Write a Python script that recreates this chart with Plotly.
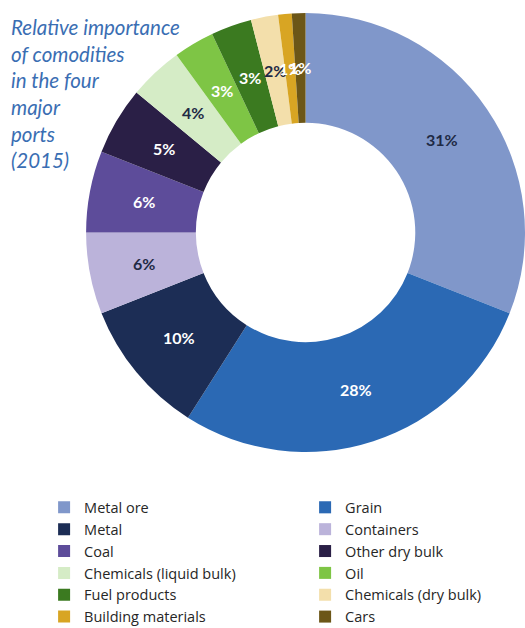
import math
import plotly.graph_objects as go

# Share of cargo by commodity, four major ports, 2015 (percent)
commodities = [
    "Metal ore", "Grain", "Metal", "Containers", "Coal", "Other dry bulk",
    "Chemicals (liquid bulk)", "Oil", "Fuel products", "Chemicals (dry bulk)",
    "Building materials", "Cars",
]
shares = [31, 28, 10, 6, 6, 5, 4, 3, 3, 2, 1, 1]

slice_colors = [
    "#8097CA", "#2B69B4", "#1C2D55", "#BBB3DA", "#5D4C9A", "#2A1F46",
    "#D5ECC6", "#7EC545", "#3B7A20", "#F3DFAB", "#D8A523", "#6C5617",
]
label_colors = [
    "#1F2A45", "white", "white", "#1F2A45", "white", "white",
    "#1F2A45", "white", "white", "#1F2A45", "white", "white",
]

W, H = 525, 628
HOLE = 0.5
DOM_X = [0.164, 1.0]
DOM_Y = [0.2787, 0.9809]

fig = go.Figure(
    go.Pie(
        labels=commodities,
        values=shares,
        sort=False,
        direction="clockwise",
        rotation=0,
        hole=HOLE,
        marker=dict(colors=slice_colors, line=dict(width=0)),
        textinfo="none",
        domain=dict(x=DOM_X, y=DOM_Y),
    )
)

# Percentage labels sit at the middle of the ring, on each slice's mid-angle
dom_w = (DOM_X[1] - DOM_X[0]) * W
dom_h = (DOM_Y[1] - DOM_Y[0]) * H
radius = min(dom_w, dom_h) / 2
cx = (DOM_X[0] + DOM_X[1]) / 2 * W
cy = (1 - (DOM_Y[0] + DOM_Y[1]) / 2) * H
r_mid = radius * (1 + HOLE) / 2
total = sum(shares)
cum = 0.0
for share, col in zip(shares, label_colors):
    theta = 2 * math.pi * (cum + share / 2) / total
    cum += share
    px = cx + r_mid * math.sin(theta)
    py = cy - r_mid * math.cos(theta)
    fig.add_annotation(
        text=f"{share}%", xref="paper", yref="paper",
        x=px / W, y=1 - py / H, xanchor="center", yanchor="middle",
        showarrow=False,
        font=dict(family="Lato", size=16, color=col, weight="bold"),
    )

fig.add_annotation(
    text="Relative importance<br>of comodities<br>in the four<br>major<br>ports<br>(2015)",
    xref="paper", yref="paper", x=0.018, y=0.979,
    xanchor="left", yanchor="top", align="left", showarrow=False,
    font=dict(family="Lato", size=20.5, color="#3A6EB3", style="italic"),
)

fig.update_layout(
    width=W, height=H,
    margin=dict(l=0, r=0, t=0, b=0, autoexpand=False),
    paper_bgcolor="white", plot_bgcolor="white",
    legend=dict(
        orientation="h",
        x=0.084, y=0.2175, xanchor="left", yanchor="top",
        entrywidth=216, entrywidthmode="pixels",
        font=dict(family="Open Sans", size=14.5, color="#262626"),
        itemwidth=30,
        tracegroupgap=0,
    ),
)

fig.write_html("out.html")
